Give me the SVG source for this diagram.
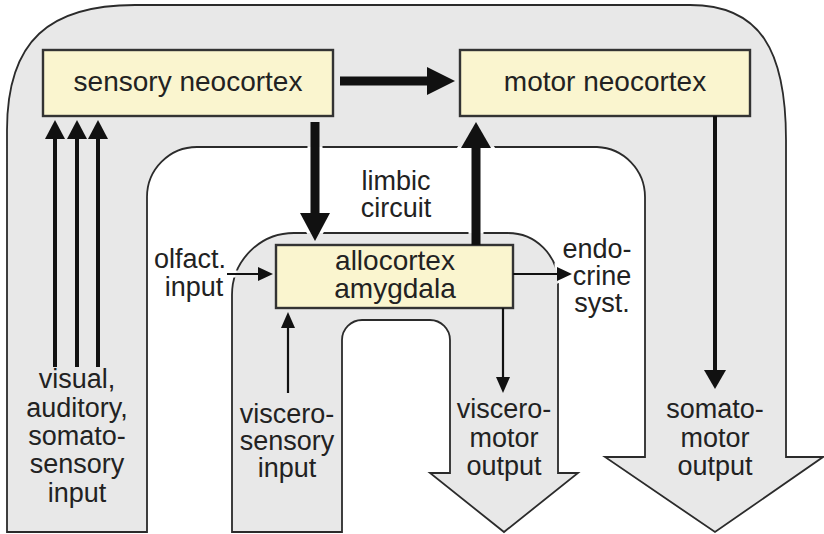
<svg xmlns="http://www.w3.org/2000/svg" xmlns:xlink="http://www.w3.org/1999/xlink" width="824" height="534" viewBox="0 0 824 534">
  <style>
    .band { fill: #e8e8e8; stroke: none; }
    .edge { fill: none; stroke: #2b2b2b; stroke-width: 1.8; stroke-linejoin: miter; }
    .box { fill: #faf5cf; stroke: #333333; stroke-width: 2.4; }
    .lbl { font-family: "Liberation Sans", Arial, Helvetica, sans-serif; font-size: 27px; fill: #222222; text-anchor: middle; }
    .title { font-size: 28px; }
    .shaft { stroke: #111111; fill: none; }
    .bold { stroke-width: 9; }
    .mid { stroke-width: 4; }
    .thin { stroke-width: 2.2; }
    .head { fill: #111111; stroke: none; }
    .gap { stroke: #000000; fill: #000000; }
  </style>
  <defs>
    <!-- large pathway: sensory inputs up the left, across the top, somatomotor output down the right -->
    <path id="outerPath" d="M7,532 L7,130 C7,40 50,5 135,5 L690,5 C760,5 786,50 786,140 L786,457 L823,457 L715,532 L605,457 L645,457 L645,197 A50,50 0 0 0 597,147 L197,147 A50,50 0 0 0 147,197 L147,532 Z"/>
    <!-- limbic pathway: viscerosensory input up, visceromotor output down -->
    <path id="innerPath" d="M232,532 L232,295 A62,62 0 0 1 294,233 L508,233 A50,50 0 0 1 558,283 L558,473 L578,473 L504,532 L430,473 L450,473 L450,340 A20,20 0 0 0 430,320 L362,320 A20,20 0 0 0 342,340 L342,532 Z"/>
    <!-- outlines are interrupted where arrows cross them -->
    <mask id="edgeGaps" maskUnits="userSpaceOnUse" x="0" y="0" width="824" height="534">
      <rect x="0" y="0" width="824" height="534" fill="#ffffff"/>
      <g class="gap">
        <line x1="315" y1="122" x2="315" y2="215" stroke-width="15"/>
        <polygon points="300,213 330,213 315,241" stroke-width="7"/>
        <line x1="476" y1="245" x2="476" y2="146" stroke-width="15"/>
        <polygon points="461,148 491,148 476,122" stroke-width="7"/>
        <line x1="227" y1="274" x2="262" y2="274" stroke-width="7"/>
        <line x1="517" y1="274" x2="560" y2="274" stroke-width="7"/>
        <polygon points="557,267 572,274 557,281" stroke-width="5"/>
      </g>
    </mask>
  </defs>

  <g id="pathways">
    <use xlink:href="#outerPath" class="band"/>
    <use xlink:href="#innerPath" class="band"/>
    <g mask="url(#edgeGaps)">
      <use xlink:href="#outerPath" class="edge"/>
      <use xlink:href="#innerPath" class="edge"/>
    </g>
  </g>

  <g id="sensory-neocortex">
    <rect class="box" x="43" y="50" width="290" height="66"/>
    <text class="lbl title" x="188" y="91">sensory neocortex</text>
  </g>

  <g id="motor-neocortex">
    <rect class="box" x="460" y="50" width="290" height="66"/>
    <text class="lbl title" x="605" y="91">motor neocortex</text>
  </g>

  <g id="allocortex-amygdala">
    <rect class="box" x="276" y="245" width="237" height="63"/>
    <text class="lbl title" x="395" y="270">allocortex</text>
    <text class="lbl title" x="395" y="298">amygdala</text>
  </g>

  <g id="labels">
    <text class="lbl" x="396" y="190">limbic</text>
    <text class="lbl" x="396" y="217">circuit</text>
    <text class="lbl" x="190" y="268">olfact.</text>
    <text class="lbl" x="194" y="296">input</text>
    <text class="lbl" x="597" y="258">endo-</text>
    <text class="lbl" x="602" y="285">crine</text>
    <text class="lbl" x="602" y="312">syst.</text>
    <text class="lbl" x="77" y="388">visual,</text>
    <text class="lbl" x="77" y="417">auditory,</text>
    <text class="lbl" x="77" y="445">somato-</text>
    <text class="lbl" x="77" y="473">sensory</text>
    <text class="lbl" x="77" y="502">input</text>
    <text class="lbl" x="287" y="423">viscero-</text>
    <text class="lbl" x="287" y="450">sensory</text>
    <text class="lbl" x="287" y="477">input</text>
    <text class="lbl" x="504" y="418">viscero-</text>
    <text class="lbl" x="504" y="447">motor</text>
    <text class="lbl" x="504" y="475">output</text>
    <text class="lbl" x="715" y="418">somato-</text>
    <text class="lbl" x="715" y="447">motor</text>
    <text class="lbl" x="715" y="475">output</text>
  </g>

  <g id="connectors">
    <!-- sensory neocortex to motor neocortex -->
    <line class="shaft bold" x1="340" y1="81" x2="430" y2="81"/>
    <polygon class="head" points="427,67 455,81 427,95"/>
    <!-- sensory neocortex down into the limbic circuit -->
    <line class="shaft bold" x1="315" y1="122" x2="315" y2="215"/>
    <polygon class="head" points="300,213 330,213 315,241"/>
    <!-- allocortex up to motor neocortex -->
    <line class="shaft bold" x1="476" y1="245" x2="476" y2="146"/>
    <polygon class="head" points="461,148 491,148 476,122"/>
    <!-- motor neocortex to somatomotor output -->
    <line class="shaft mid" x1="715" y1="116" x2="715" y2="372"/>
    <polygon class="head" points="704,370 726,370 715,389"/>
    <!-- visual, auditory, somatosensory inputs -->
    <line class="shaft mid" x1="55" y1="367" x2="55" y2="136"/>
    <polygon class="head" points="45,139 65,139 55,120"/>
    <line class="shaft mid" x1="77" y1="367" x2="77" y2="136"/>
    <polygon class="head" points="67,139 87,139 77,120"/>
    <line class="shaft mid" x1="98" y1="367" x2="98" y2="136"/>
    <polygon class="head" points="88,139 108,139 98,120"/>
    <!-- olfactory input -->
    <line class="shaft thin" x1="227" y1="274" x2="261" y2="274"/>
    <polygon class="head" points="258,267 273,274 258,281"/>
    <!-- endocrine system -->
    <line class="shaft thin" x1="513" y1="274" x2="560" y2="274"/>
    <polygon class="head" points="557,267 572,274 557,281"/>
    <!-- viscerosensory input -->
    <line class="shaft thin" x1="288" y1="393" x2="288" y2="325"/>
    <polygon class="head" points="281,328 295,328 288,312"/>
    <!-- visceromotor output -->
    <line class="shaft thin" x1="503" y1="308" x2="503" y2="380"/>
    <polygon class="head" points="496,377 510,377 503,393"/>
  </g>
</svg>
